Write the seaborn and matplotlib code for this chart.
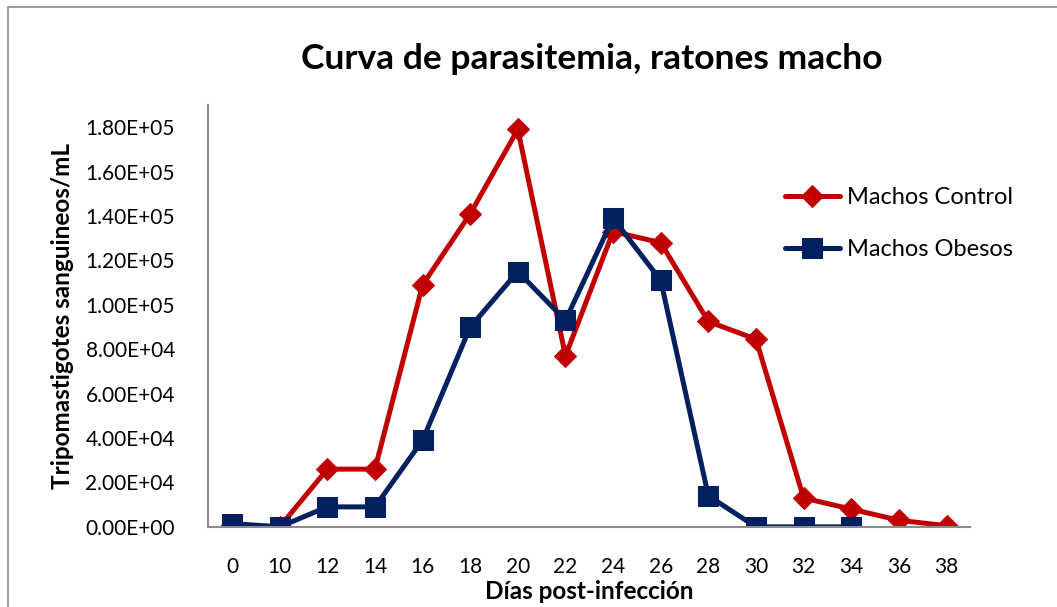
import seaborn as sns
import pandas as pd
import matplotlib.pyplot as plt
from matplotlib.patches import Rectangle
from matplotlib.ticker import FuncFormatter

# Data
days = ['0', '10', '12', '14', '16', '18', '20', '22', '24', '26', '28', '30', '32', '34', '36', '38']
control = [1000, 0, 26000, 26000, 109000, 141000, 179000, 77000, 133000, 128000, 92500, 84500, 13000, 8000, 3000, 500]
obesos = [1500, 0, 9000, 9000, 39000, 90000, 115000, 93000, 139000, 111000, 14000, 0, 0, 0, None, None]

df = pd.DataFrame({'dia': days, 'Machos Control': control, 'Machos Obesos': obesos})

sns.set_style('white')
plt.rcParams['font.family'] = ['Lato', 'DejaVu Sans']
plt.rcParams['text.color'] = 'black'
plt.rcParams['axes.labelcolor'] = 'black'

fig = plt.figure(figsize=(10.57, 6.07), dpi=100)
ax = fig.add_axes([0.197, 0.132, 0.721, 0.695])

# Outer chart frame like the Excel chart area
fig.patches.append(Rectangle((8 / 1057, -0.1), 1.2, (601 + 60) / 607, transform=fig.transFigure,
                             fill=False, edgecolor='#8c8c8c', linewidth=1.2))

sns.lineplot(data=df, x='dia', y='Machos Control', ax=ax, color='#C00000', linewidth=3.6,
             marker='D', markersize=11, markeredgecolor='#C00000', label='Machos Control', sort=False)
sns.lineplot(data=df.dropna(), x='dia', y='Machos Obesos', ax=ax, color='#002060', linewidth=3.6,
             marker='s', markersize=14, markeredgecolor='#002060', label='Machos Obesos', sort=False)

ax.set_xlim(-0.5, len(days) - 0.5)
ax.set_ylim(0, 190000)
ax.set_yticks(range(0, 180001, 20000))
ax.yaxis.set_major_formatter(FuncFormatter(lambda v, p: f'{v:.2E}'))
ax.tick_params(axis='both', labelsize=15, length=0, colors='black')
ax.tick_params(axis='y', pad=24)
ax.tick_params(axis='x', pad=22)

for side in ['top', 'right']:
    ax.spines[side].set_visible(False)
for side in ['left', 'bottom']:
    ax.spines[side].set_color('#8c8c8c')
    ax.spines[side].set_linewidth(1.5)

ax.set_xlabel('Días post-infección', fontsize=17.5, fontweight='bold', labelpad=2)
ax.set_ylabel('Tripomastigotes sanguineos/mL', fontsize=17.5, fontweight='bold', labelpad=8)
fig.text(0.56, 0.902, 'Curva de parasitemia, ratones macho', ha='center', va='center',
         fontsize=25.5, fontweight='bold')

ax.legend(loc='upper left', bbox_to_anchor=(764 / 1057, 1 - 166 / 607), bbox_transform=fig.transFigure,
          frameon=False, fontsize=17, handlelength=2.3, labelspacing=1.3, handletextpad=0.3)

fig.savefig('out.png', dpi=100)
